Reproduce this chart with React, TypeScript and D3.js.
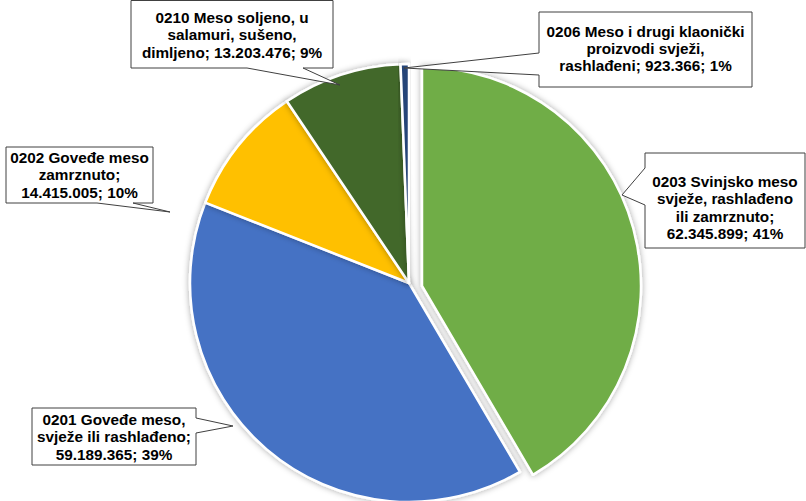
import React from "react";
import * as d3 from "d3";

const codes = ["0203", "0201", "0202", "0210", "0206"];
const values = [62345899, 59189365, 14415005, 13203476, 923366];
const percents = [41, 39, 10, 9, 1];
const colors = ["#70AD47", "#4472C4", "#FFC000", "#43682B", "#264478"];
// label lines: {v} = formatted value, {p} = percent
const labelLines = [
  ["0203 Svinjsko meso", "svježe, rashlađeno", "ili zamrznuto;", "{v}; {p}%"],
  ["0201 Goveđe meso,", "svježe ili rashlađeno;", "{v}; {p}%"],
  ["0202 Goveđe meso", "zamrznuto;", "{v}; {p}%"],
  ["0210 Meso soljeno, u", "salamuri, sušeno,", "dimljeno; {v}; {p}%"],
  ["0206 Meso i drugi klaonički", "proizvodi svježi,", "rashlađeni; {v}; {p}%"],
];

// layout (positions only)
const CX = 409, CY = 283, R = 219;
const EXPLODE = [[13, 3], [0, 0], [0, 0], [0, 0], [0, 0]];
type Box = { x: number; y: number; w: number; h: number; side: string; a: number; b: number; tip: [number, number]; base: number };
const boxes: Box[] = [
  { x: 645, y: 153, w: 160, h: 95, side: "left", a: 168, b: 205, tip: [622, 195], base: 187 },
  { x: 32, y: 408, w: 164, h: 57, side: "right", a: 418, b: 433, tip: [233, 426], base: 425 },
  { x: 6, y: 147, w: 147, h: 56, side: "bottom", a: 97, b: 133, tip: [170, 212], base: 163 },
  { x: 131, y: 0.5, w: 202, h: 67.5, side: "bottom", a: 247, b: 303, tip: [340, 85], base: 22.7 },
  { x: 539, y: 12, w: 213, h: 75, side: "left", a: 53, b: 75, tip: [404, 68], base: 36.5 },
];
const LINE_H = 17.4;

const locale = d3.formatLocale({ decimal: ",", thousands: ".", grouping: [3], currency: ["", ""] });
const fmt = locale.format(",d");

function calloutPath(bx: Box): string {
  const { x, y, w, h, side, a, b, tip } = bx;
  const r = x + w, btm = y + h;
  const t = `${tip[0]},${tip[1]}`;
  if (side === "bottom") return `M${x},${y}H${r}V${btm}H${b}L${t}L${a},${btm}H${x}Z`;
  if (side === "left") return `M${x},${y}H${r}V${btm}H${x}V${b}L${t}L${x},${a}Z`;
  return `M${x},${y}H${r}V${a}L${t}L${r},${b}V${btm}H${x}Z`;
}

export default function App() {
  const pie = d3.pie<number>().sort(null).value((d) => d)(values);
  const arc = d3.arc<d3.PieArcDatum<number>>().innerRadius(0).outerRadius(R);
  return (
    <svg width={806} height={501} style={{ position: "fixed", left: 0, top: 0, background: "#fff" }}
      fontFamily="'Liberation Sans', Arial, sans-serif">
      <defs>
        <filter id="sh" x="-20%" y="-20%" width="140%" height="140%">
          <feDropShadow dx="0" dy="0" stdDeviation="3" floodColor="#000" floodOpacity="0.35" />
        </filter>
      </defs>
      <rect width={806} height={501} fill="#fff" />
      <g transform={`translate(${CX},${CY})`}>
        {pie.map((p, i) => (
          <path key={i} d={arc(p) || ""} fill={colors[i]} stroke="#fff" strokeWidth={2.5}
            strokeLinejoin="round"
            transform={`translate(${EXPLODE[i][0]},${EXPLODE[i][1]})`} filter="url(#sh)" />
        ))}
      </g>
      {boxes.map((bx, i) => (
        <g key={codes[i]}>
          <path d={calloutPath(bx)} fill="#fff" stroke="#404040" strokeWidth={1} />
          {labelLines[i].map((ln, j) => (
            <text key={j} x={bx.x + bx.w / 2} y={bx.base + j * LINE_H} textAnchor="middle"
              fontSize={15.3} fontWeight="bold" fill="#000">
              {ln.replace("{v}", fmt(values[i])).replace("{p}", String(percents[i]))}
            </text>
          ))}
        </g>
      ))}
    </svg>
  );
}
